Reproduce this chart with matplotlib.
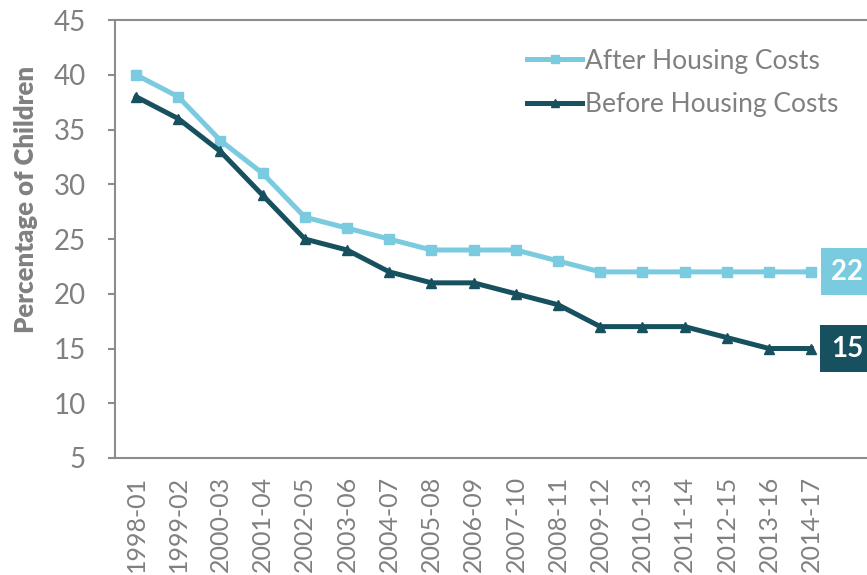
import numpy as np
import matplotlib
matplotlib.use('Agg')
import matplotlib.pyplot as plt

periods = ['1998-01', '1999-02', '2000-03', '2001-04', '2002-05', '2003-06',
           '2004-07', '2005-08', '2006-09', '2007-10', '2008-11', '2009-12',
           '2010-13', '2011-14', '2012-15', '2013-16', '2014-17']
after_hc = [40, 38, 34, 31, 27, 26, 25, 24, 24, 24, 23, 22, 22, 22, 22, 22, 22]
before_hc = [38, 36, 33, 29, 25, 24, 22, 21, 21, 20, 19, 17, 17, 17, 16, 15, 15]

light = '#7ACBE0'
dark = '#17505E'
grey = '#808080'

plt.rcParams['font.family'] = ['Lato', 'DejaVu Sans']

fig = plt.figure(figsize=(8.67, 5.75), dpi=100)
ax = fig.add_axes([0.1326, 0.2035, 0.8674, 0.7615])

x = np.arange(len(periods))
ax.plot(x, after_hc, color=light, lw=3.6, marker='s', ms=7.5, label='After Housing Costs')
ax.plot(x, before_hc, color=dark, lw=3.6, marker='^', ms=7.5, label='Before Housing Costs')

ax.set_ylim(5, 45)
ax.set_xlim(-0.5, 17.32)
ax.set_yticks(range(5, 50, 5))
ax.set_xticks(x)
ax.set_xticklabels(periods, rotation=90)

for s in ['top', 'bottom', 'left']:
    ax.spines[s].set_color('#8c8c8c')
    ax.spines[s].set_linewidth(1.5)
ax.spines['right'].set_visible(False)
ax.tick_params(axis='y', colors='#8c8c8c', labelcolor=grey, labelsize=20, length=5, width=1.5, pad=16)
ax.tick_params(axis='x', length=0, labelcolor=grey, labelsize=18, pad=13)

ax.set_ylabel('Percentage of Children', color=grey, fontsize=18.5, fontweight='heavy')
ax.yaxis.set_label_coords(-0.102, 0.59)

leg = ax.legend(loc='upper left', bbox_to_anchor=(0.548, 0.935), frameon=False, fontsize=19,
                labelcolor=grey, handlelength=2.1, handletextpad=0.1, labelspacing=0.7,
                borderpad=0, borderaxespad=0, markerscale=0.8)

# end-value boxes
for vals, col in [(after_hc, light), (before_hc, dark)]:
    ax.text(16.85, vals[-1], str(vals[-1]), color='white', fontsize=20, fontweight='bold',
            ha='center', va='center',
            bbox=dict(boxstyle='square,pad=0.38', fc=col, ec='none'))

fig.savefig('out.png', dpi=100)
